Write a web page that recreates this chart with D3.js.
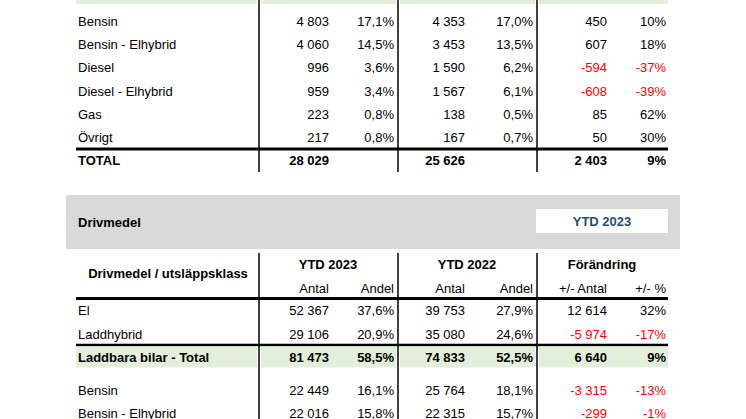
<!DOCTYPE html>
<html><head><meta charset="utf-8">
<script src="https://cdn.jsdelivr.net/npm/d3@7"></script>
<style>body{margin:0;background:#fff}svg{display:block;font-family:"Liberation Sans",Arial,sans-serif;font-size:13px}</style>
</head><body><svg width="746" height="419"></svg>
<script>
// top table (continuation)
var topLabels = ["Bensin", "Bensin - Elhybrid", "Diesel", "Diesel - Elhybrid", "Gas", "Övrigt"];
var topRows = [
  ["4 803", "17,1%", "4 353", "17,0%", "450", "10%"],
  ["4 060", "14,5%", "3 453", "13,5%", "607", "18%"],
  ["996", "3,6%", "1 590", "6,2%", "-594", "-37%"],
  ["959", "3,4%", "1 567", "6,1%", "-608", "-39%"],
  ["223", "0,8%", "138", "0,5%", "85", "62%"],
  ["217", "0,8%", "167", "0,7%", "50", "30%"]
];
var topTotal = ["TOTAL", "28 029", "", "25 626", "", "2 403", "9%"];

// bottom table
var groupHeaders = ["YTD 2023", "YTD 2022", "Förändring"];
var subHeaders = ["Antal", "Andel", "Antal", "Andel", "+/- Antal", "+/- %"];
var botLabels = ["El", "Laddhybrid"];
var botRows = [
  ["52 367", "37,6%", "39 753", "27,9%", "12 614", "32%"],
  ["29 106", "20,9%", "35 080", "24,6%", "-5 974", "-17%"]
];
var subTotal = ["Laddbara bilar - Total", "81 473", "58,5%", "74 833", "52,5%", "6 640", "9%"];
var botLabels2 = ["Bensin", "Bensin - Elhybrid"];
var botRows2 = [
  ["22 449", "16,1%", "25 764", "18,1%", "-3 315", "-13%"],
  ["22 016", "15,8%", "22 315", "15,7%", "-299", "-1%"]
];

var svg = d3.select("svg");
var colX = d3.scaleOrdinal().domain(d3.range(6)).range([329, 394, 465, 533, 607, 666]);
var groupX = d3.scaleOrdinal().domain(d3.range(3)).range([328, 467, 602]);
var vlines = [259, 398, 537];
var green = "#e2efda";
var L = 76, R = 668;

function colorOf(v) { return v.charAt(0) === "-" ? "#ff0000" : "#000"; }

function drawRow(y, label, vals, bold) {
  svg.append("text").attr("x", 78).attr("y", y).attr("font-weight", bold ? "bold" : null).text(label);
  vals.forEach(function (v, i) {
    svg.append("text").attr("x", colX(i)).attr("y", y).attr("text-anchor", "end")
      .attr("font-weight", bold ? "bold" : null)
      .attr("fill", i >= 4 ? colorOf(v) : "#000").text(v);
  });
}

// ---- top section
var yTop = d3.scalePoint().domain(topLabels).range([26, 142]);
[[L, 257], [261, 396], [400, 535], [539, R]].forEach(function (s) {
  svg.append("rect").attr("x", s[0]).attr("y", 0).attr("width", s[1] - s[0]).attr("height", 4).attr("fill", green);
});
topLabels.forEach(function (l, i) { drawRow(yTop(l), l, topRows[i], false); });
svg.append("line").attr("x1", L).attr("x2", R).attr("y1", 149).attr("y2", 149).attr("stroke", "#000").attr("stroke-width", 3);
drawRow(165, topTotal[0], topTotal.slice(1), true);
vlines.forEach(function (x) {
  svg.append("line").attr("x1", x).attr("x2", x).attr("y1", 0).attr("y2", 172).attr("stroke", "#000").attr("stroke-width", 1.5);
});

// ---- bottom section header
svg.append("rect").attr("x", 66).attr("y", 195).attr("width", 614).attr("height", 54).attr("fill", "#d9d9d9");
svg.append("text").attr("x", 78).attr("y", 227).attr("font-weight", "bold").text("Drivmedel");
svg.append("rect").attr("x", 536).attr("y", 209).attr("width", 132).attr("height", 24).attr("fill", "#fff");
svg.append("text").attr("x", 602).attr("y", 226).attr("text-anchor", "middle").attr("font-weight", "bold").attr("fill", "#1f4e79").text("YTD 2023");

svg.append("text").attr("x", 168).attr("y", 278).attr("text-anchor", "middle").attr("font-weight", "bold").text("Drivmedel / utsläppsklass");
groupHeaders.forEach(function (g, i) {
  svg.append("text").attr("x", groupX(i)).attr("y", 269).attr("text-anchor", "middle").attr("font-weight", "bold").text(g);
});
subHeaders.forEach(function (s, i) {
  svg.append("text").attr("x", colX(i)).attr("y", 293).attr("text-anchor", "end").text(s);
});
svg.append("line").attr("x1", L).attr("x2", R).attr("y1", 298.5).attr("y2", 298.5).attr("stroke", "#000").attr("stroke-width", 3);

var yBot = d3.scalePoint().domain(botLabels).range([315, 339]);
botLabels.forEach(function (l, i) { drawRow(yBot(l), l, botRows[i], false); });
svg.append("line").attr("x1", L).attr("x2", R).attr("y1", 345).attr("y2", 345).attr("stroke", "#000").attr("stroke-width", 2.5);
[[L, 257], [261, 396], [400, 535], [539, R]].forEach(function (s) {
  svg.append("rect").attr("x", s[0]).attr("y", 346.5).attr("width", s[1] - s[0]).attr("height", 21).attr("fill", green);
});
drawRow(362, subTotal[0], subTotal.slice(1), true);
var yBot2 = d3.scalePoint().domain(botLabels2).range([395, 418]);
botLabels2.forEach(function (l, i) { drawRow(yBot2(l), l, botRows2[i], false); });
vlines.forEach(function (x) {
  svg.append("line").attr("x1", x).attr("x2", x).attr("y1", 253).attr("y2", 419).attr("stroke", "#000").attr("stroke-width", 1.5);
});
</script></body></html>
